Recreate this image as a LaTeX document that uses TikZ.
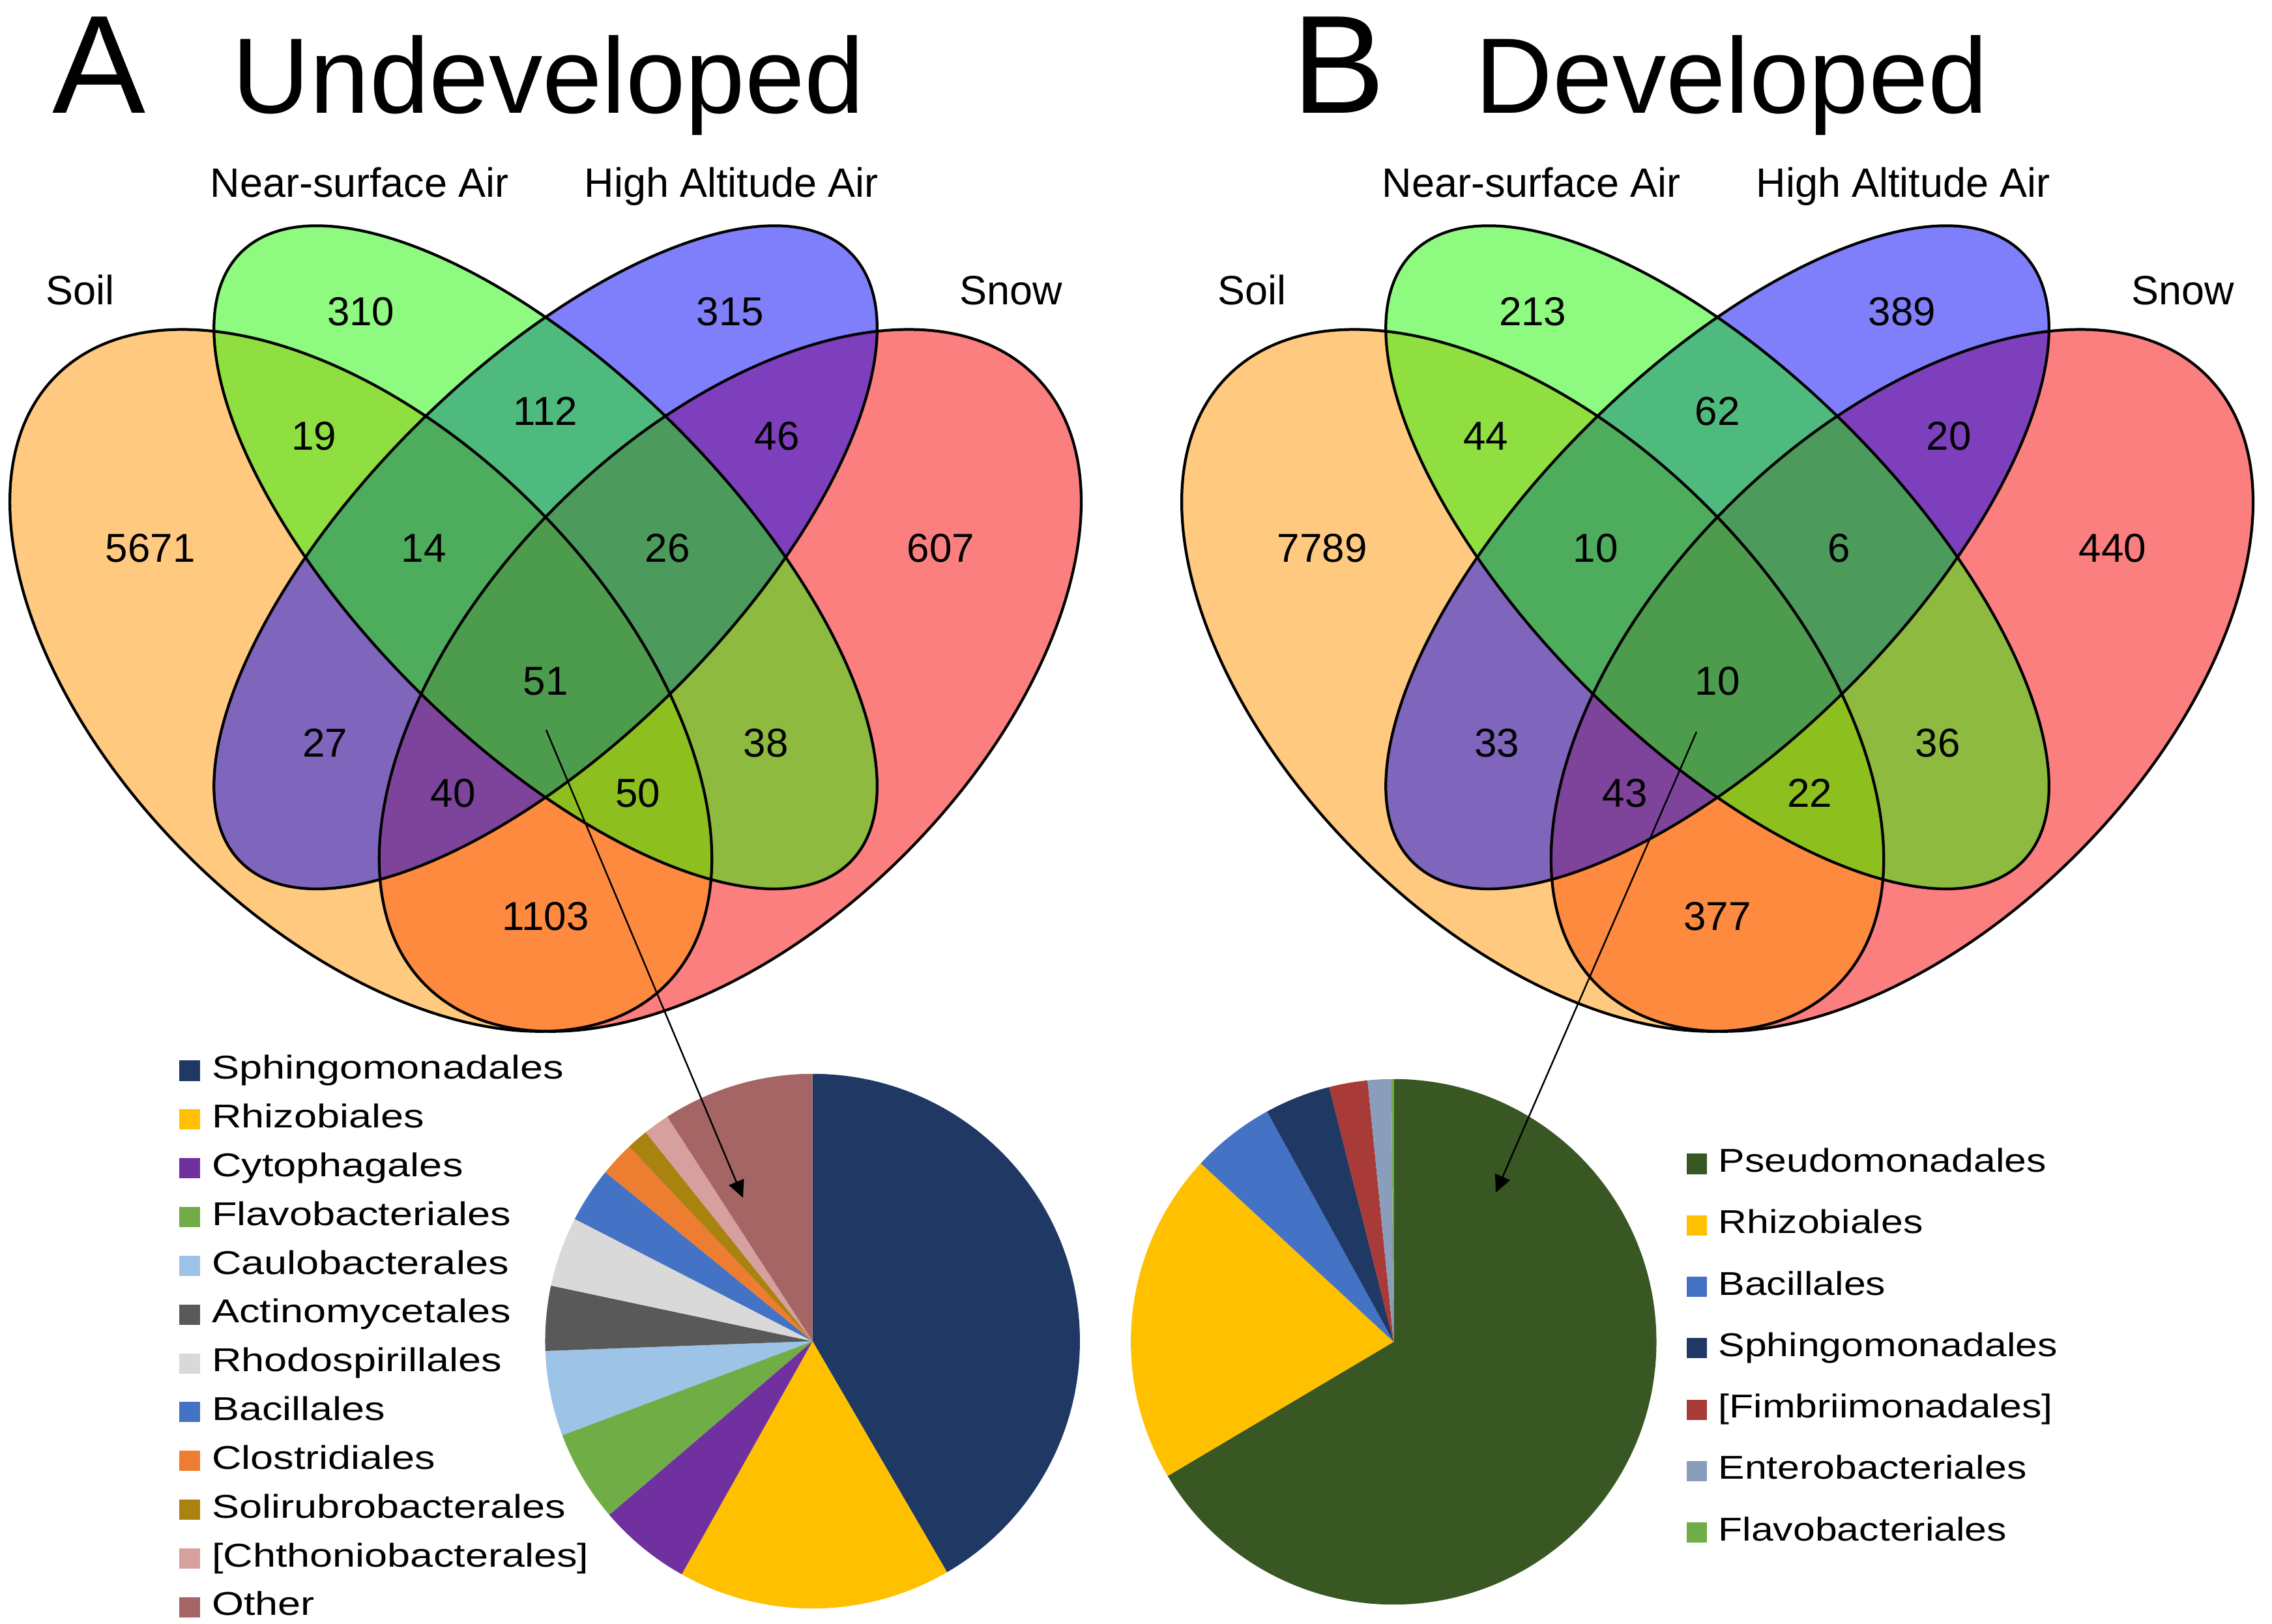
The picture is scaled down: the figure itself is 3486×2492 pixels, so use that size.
\documentclass[tikz,border=0pt]{standalone}
\usepackage{fontspec}
\setmainfont{Liberation Sans}
\usetikzlibrary{positioning}
\usetikzlibrary{arrows.meta}

% venn set colours
\definecolor{soilc}{RGB}{255,150,0}
\definecolor{nearc}{RGB}{30,245,0}
\definecolor{highc}{RGB}{0,0,250}
\definecolor{snowc}{RGB}{250,0,0}
% pie colours
\definecolor{sphingoc}{RGB}{32,56,100}
\definecolor{rhizoc}{RGB}{255,192,0}
\definecolor{cytoc}{RGB}{112,48,160}
\definecolor{flavoc}{RGB}{112,173,71}
\definecolor{cauloc}{RGB}{157,195,230}
\definecolor{actinoc}{RGB}{89,89,89}
\definecolor{rhodoc}{RGB}{217,217,217}
\definecolor{bacilc}{RGB}{68,114,196}
\definecolor{clostc}{RGB}{237,125,49}
\definecolor{solirc}{RGB}{170,130,15}
\definecolor{chthoc}{RGB}{214,160,158}
\definecolor{otherc}{RGB}{165,101,100}
\definecolor{pseudoc}{RGB}{56,87,35}
\definecolor{fimbric}{RGB}{168,58,55}
\definecolor{enteroc}{RGB}{138,157,187}

\tikzset{
  vfill/.style={fill=#1, fill opacity=0.5},
  vline/.style={draw=black, line width=1.2pt},
  regnum/.style={font=\fontsize{17.6}{20}\selectfont, inner sep=0pt, text height=0.72em, text depth=0pt},
  setname/.style={font=\fontsize{17.9}{21}\selectfont, inner sep=0pt, anchor=base},
  panel/.style={font=\fontsize{61}{72}\selectfont, inner sep=0pt, anchor=base west},
  heading/.style={font=\fontsize{46.8}{56}\selectfont, inner sep=0pt, anchor=base west},
  legbox/.style={fill=#1, minimum size=0.31cm, inner sep=0pt},
  legtxt/.style={font=\fontsize{14.4}{17}\selectfont, inner sep=0pt, text height=0.72em, text depth=0pt, xscale=#1},
  legtxt/.default=1.245,
  pointer/.style={-{Triangle[length=7.5pt,width=7pt]}, line width=0.7pt},
}

% the four ellipses, in venn units
\newcommand{\vennsets}{%
  \fill[vfill=snowc, rotate around={45:(0.65,0.47)}] (0.65,0.47) ellipse [x radius=0.35, y radius=0.2];
  \fill[vfill=soilc, rotate around={-45:(0.35,0.47)}] (0.35,0.47) ellipse [x radius=0.35, y radius=0.2];
  \fill[vfill=highc, rotate around={45:(0.5,0.57)}] (0.5,0.57) ellipse [x radius=0.35, y radius=0.15];
  \fill[vfill=nearc, rotate around={-45:(0.5,0.57)}] (0.5,0.57) ellipse [x radius=0.35, y radius=0.15];
  \draw[vline, rotate around={45:(0.65,0.47)}] (0.65,0.47) ellipse [x radius=0.35, y radius=0.2];
  \draw[vline, rotate around={-45:(0.35,0.47)}] (0.35,0.47) ellipse [x radius=0.35, y radius=0.2];
  \draw[vline, rotate around={45:(0.5,0.57)}] (0.5,0.57) ellipse [x radius=0.35, y radius=0.15];
  \draw[vline, rotate around={-45:(0.5,0.57)}] (0.5,0.57) ellipse [x radius=0.35, y radius=0.15];
}

\begin{document}
\begin{tikzpicture}[x=0.01cm, y=-0.01cm]
    \useasboundingbox (0,0) rectangle (3486,2492);

    % panel titles
    \node[panel] (letA) at (80,174) {A};
    \node[heading] (ttlA) at (356,174) {Undeveloped};
    \node[panel] (letB) at (1982,174) {B};
    \node[heading] (ttlB) at (2263,174) {Developed};

    % venn A
    \begin{scope}[shift={(-107.5,1932)}, x=18.88cm, y=18.88cm]
      \vennsets
      \node[setname] (Asoil) at (0.122,0.7754) {Soil};
      \node[setname] (Anear) at (0.349,0.8628) {Near-surface Air};
      \node[setname] (Ahigh) at (0.651,0.8628) {High Altitude Air};
      \node[setname] (Asnow) at (0.878,0.7754) {Snow};

      \node[regnum] (An) at (0.350,0.765) {310};
      \node[regnum] (Ah) at (0.650,0.765) {315};
      \node[regnum] (Aon) at (0.312,0.664) {19};
      \node[regnum] (Anh) at (0.500,0.684) {112};
      \node[regnum] (Ahw) at (0.688,0.664) {46};
      \node[regnum] (Ao) at (0.179,0.573) {5671};
      \node[regnum] (Aonh) at (0.401,0.573) {14};
      \node[regnum] (Anhw) at (0.599,0.573) {26};
      \node[regnum] (Aw) at (0.821,0.573) {607};
      \node[regnum] (Aall) at (0.500,0.465) {51};
      \node[regnum] (Aoh) at (0.321,0.4145) {27};
      \node[regnum] (Anw) at (0.679,0.4145) {38};
      \node[regnum] (Aohw) at (0.425,0.374) {40};
      \node[regnum] (Aonw) at (0.575,0.374) {50};
      \node[regnum] (Aow) at (0.500,0.274) {1103};
    \end{scope}

    % venn B
    \begin{scope}[shift={(1690.5,1932)}, x=18.88cm, y=18.88cm]
      \vennsets
      \node[setname] (Bsoil) at (0.122,0.7754) {Soil};
      \node[setname] (Bnear) at (0.349,0.8628) {Near-surface Air};
      \node[setname] (Bhigh) at (0.651,0.8628) {High Altitude Air};
      \node[setname] (Bsnow) at (0.878,0.7754) {Snow};

      \node[regnum] (Bn) at (0.350,0.765) {213};
      \node[regnum] (Bh) at (0.650,0.765) {389};
      \node[regnum] (Bon) at (0.312,0.664) {44};
      \node[regnum] (Bnh) at (0.500,0.684) {62};
      \node[regnum] (Bhw) at (0.688,0.664) {20};
      \node[regnum] (Bo) at (0.179,0.573) {7789};
      \node[regnum] (Bonh) at (0.401,0.573) {10};
      \node[regnum] (Bnhw) at (0.599,0.573) {6};
      \node[regnum] (Bw) at (0.821,0.573) {440};
      \node[regnum] (Ball) at (0.500,0.465) {10};
      \node[regnum] (Boh) at (0.321,0.4145) {33};
      \node[regnum] (Bnw) at (0.679,0.4145) {36};
      \node[regnum] (Bohw) at (0.425,0.374) {43};
      \node[regnum] (Bonw) at (0.575,0.374) {22};
      \node[regnum] (Bow) at (0.500,0.274) {377};
    \end{scope}

    % pie A (undeveloped core)
    \coordinate (pieA) at (1246.7,2058);
    \fill[sphingoc] (pieA) -- ++(90:4.1cm) arc[start angle=90, end angle=-59.8, radius=4.1cm] -- cycle;
    \fill[rhizoc] (pieA) -- ++(-59.8:4.1cm) arc[start angle=-59.8, end angle=-119.3, radius=4.1cm] -- cycle;
    \fill[cytoc] (pieA) -- ++(-119.3:4.1cm) arc[start angle=-119.3, end angle=-139.5, radius=4.1cm] -- cycle;
    \fill[flavoc] (pieA) -- ++(-139.5:4.1cm) arc[start angle=-139.5, end angle=-159.4, radius=4.1cm] -- cycle;
    \fill[cauloc] (pieA) -- ++(-159.4:4.1cm) arc[start angle=-159.4, end angle=-177.9, radius=4.1cm] -- cycle;
    \fill[actinoc] (pieA) -- ++(-177.9:4.1cm) arc[start angle=-177.9, end angle=-192, radius=4.1cm] -- cycle;
    \fill[rhodoc] (pieA) -- ++(-192:4.1cm) arc[start angle=-192, end angle=-207.2, radius=4.1cm] -- cycle;
    \fill[bacilc] (pieA) -- ++(-207.2:4.1cm) arc[start angle=-207.2, end angle=-219.2, radius=4.1cm] -- cycle;
    \fill[clostc] (pieA) -- ++(-219.2:4.1cm) arc[start angle=-219.2, end angle=-226.7, radius=4.1cm] -- cycle;
    \fill[solirc] (pieA) -- ++(-226.7:4.1cm) arc[start angle=-226.7, end angle=-231.4, radius=4.1cm] -- cycle;
    \fill[chthoc] (pieA) -- ++(-231.4:4.1cm) arc[start angle=-231.4, end angle=-237.1, radius=4.1cm] -- cycle;
    \fill[otherc] (pieA) -- ++(-237.1:4.1cm) arc[start angle=-237.1, end angle=-270, radius=4.1cm] -- cycle;

    % pie B (developed core)
    \coordinate (pieB) at (2138.3,2059);
    \fill[pseudoc] (pieB) -- ++(90:4.03cm) arc[start angle=90, end angle=-149.3, radius=4.03cm] -- cycle;
    \fill[rhizoc] (pieB) -- ++(-149.3:4.03cm) arc[start angle=-149.3, end angle=-222.8, radius=4.03cm] -- cycle;
    \fill[bacilc] (pieB) -- ++(-222.8:4.03cm) arc[start angle=-222.8, end angle=-241.2, radius=4.03cm] -- cycle;
    \fill[sphingoc] (pieB) -- ++(-241.2:4.03cm) arc[start angle=-241.2, end angle=-255.8, radius=4.03cm] -- cycle;
    \fill[fimbric] (pieB) -- ++(-255.8:4.03cm) arc[start angle=-255.8, end angle=-264.3, radius=4.03cm] -- cycle;
    \fill[enteroc] (pieB) -- ++(-264.3:4.03cm) arc[start angle=-264.3, end angle=-269.5, radius=4.03cm] -- cycle;
    \fill[flavoc] (pieB) -- ++(-269.5:4.03cm) arc[start angle=-269.5, end angle=-270, radius=4.03cm] -- cycle;

    % legend A
    \node[legbox=sphingoc] (la1) at (291,1643) {};
    \node[legbox=rhizoc, below=0.424cm of la1] (la2) {};
    \node[legbox=cytoc, below=0.424cm of la2] (la3) {};
    \node[legbox=flavoc, below=0.424cm of la3] (la4) {};
    \node[legbox=cauloc, below=0.424cm of la4] (la5) {};
    \node[legbox=actinoc, below=0.424cm of la5] (la6) {};
    \node[legbox=rhodoc, below=0.424cm of la6] (la7) {};
    \node[legbox=bacilc, below=0.424cm of la7] (la8) {};
    \node[legbox=clostc, below=0.424cm of la8] (la9) {};
    \node[legbox=solirc, below=0.424cm of la9] (la10) {};
    \node[legbox=chthoc, below=0.424cm of la10] (la11) {};
    \node[legbox=otherc, below=0.424cm of la11] (la12) {};

    \node[legtxt, right=0.17cm of la1] (ta1) {Sphingomonadales};
    \node[legtxt, right=0.17cm of la2] (ta2) {Rhizobiales};
    \node[legtxt, right=0.17cm of la3] (ta3) {Cytophagales};
    \node[legtxt, right=0.17cm of la4] (ta4) {Flavobacteriales};
    \node[legtxt, right=0.17cm of la5] (ta5) {Caulobacterales};
    \node[legtxt, right=0.17cm of la6] (ta6) {Actinomycetales};
    \node[legtxt, right=0.17cm of la7] (ta7) {Rhodospirillales};
    \node[legtxt, right=0.17cm of la8] (ta8) {Bacillales};
    \node[legtxt, right=0.17cm of la9] (ta9) {Clostridiales};
    \node[legtxt, right=0.17cm of la10] (ta10) {Solirubrobacterales};
    \node[legtxt, right=0.17cm of la11] (ta11) {[Chthoniobacterales]};
    \node[legtxt, right=0.17cm of la12] (ta12) {Other};

    % legend B
    \node[legbox=pseudoc] (lb1) at (2603.5,1786) {};
    \node[legbox=rhizoc, below=0.618cm of lb1] (lb2) {};
    \node[legbox=bacilc, below=0.618cm of lb2] (lb3) {};
    \node[legbox=sphingoc, below=0.618cm of lb3] (lb4) {};
    \node[legbox=fimbric, below=0.618cm of lb4] (lb5) {};
    \node[legbox=enteroc, below=0.618cm of lb5] (lb6) {};
    \node[legbox=flavoc, below=0.618cm of lb6] (lb7) {};

    \node[legtxt=1.2, right=0.16cm of lb1] (tb1) {Pseudomonadales};
    \node[legtxt=1.2, right=0.16cm of lb2] (tb2) {Rhizobiales};
    \node[legtxt=1.2, right=0.16cm of lb3] (tb3) {Bacillales};
    \node[legtxt=1.2, right=0.16cm of lb4] (tb4) {Sphingomonadales};
    \node[legtxt=1.2, right=0.16cm of lb5] (tb5) {[Fimbriimonadales]};
    \node[legtxt=1.2, right=0.16cm of lb6] (tb6) {Enterobacteriales};
    \node[legtxt=1.2, right=0.16cm of lb7] (tb7) {Flavobacteriales};

    % core arrows
    \coordinate (srcA) at (838,1120);
    \coordinate (tipA) at (1140,1838);
    \coordinate (srcB) at (2603,1123);
    \coordinate (tipB) at (2295,1830);
    \draw[pointer] (srcA) -- (tipA);
    \draw[pointer] (srcB) -- (tipB);
\end{tikzpicture}
\end{document}
